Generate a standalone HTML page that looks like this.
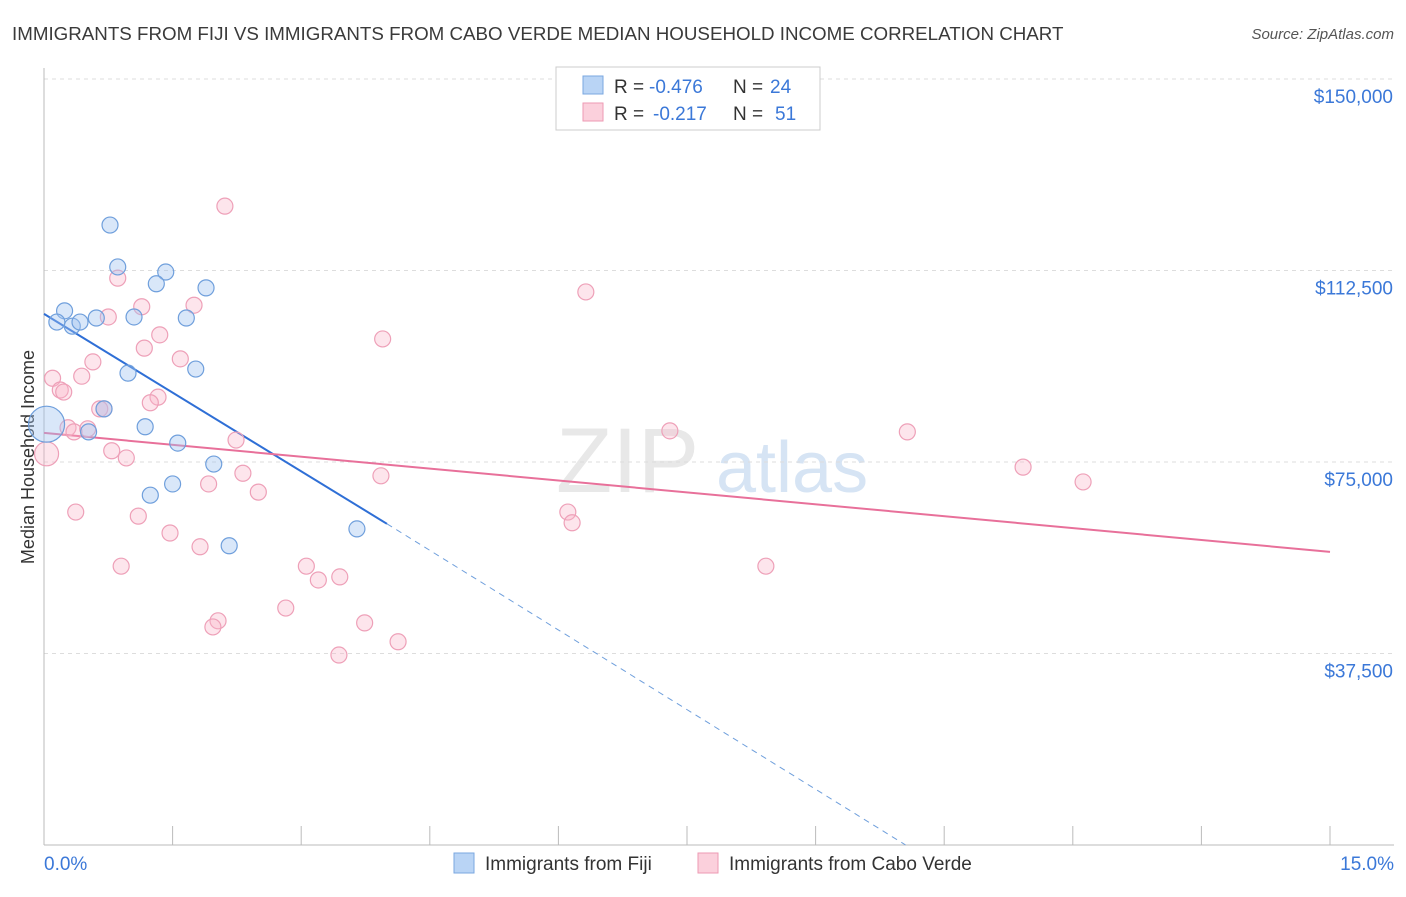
<!DOCTYPE html>
<html><head><meta charset="utf-8"><style>
body{margin:0;background:#fff;font-family:"Liberation Sans",sans-serif;}
svg text{font-family:"Liberation Sans",sans-serif;}
</style></head><body>
<svg id="chart" width="1406" height="892" viewBox="0 0 1406 892" xmlns="http://www.w3.org/2000/svg">
<text x="12" y="40" font-size="18.75" fill="#3a3a3a">IMMIGRANTS FROM FIJI VS IMMIGRANTS FROM CABO VERDE MEDIAN HOUSEHOLD INCOME CORRELATION CHART</text>
<text x="1394" y="39" font-size="15" fill="#555" font-style="italic" text-anchor="end">Source: ZipAtlas.com</text>
<text transform="translate(34,457) rotate(-90)" font-size="18" fill="#333" text-anchor="middle">Median Household Income</text>
<g><text x="556" y="492" font-size="92" fill="#e8e8e8" font-family="Liberation Serif">ZIP</text><text x="716" y="492" font-size="72" fill="#d6e4f4">atlas</text></g>
<g id="grid"></g><g id="axes"></g><g id="trends"></g><g id="points"></g>
<g>
<rect x="556" y="67" width="264" height="63" fill="#fff" stroke="#ccc"/>
<rect x="583" y="76" width="20" height="18" fill="#b9d4f5" stroke="#7aa7e0"/>
<text x="614" y="93" font-size="19" fill="#333">R =</text>
<text x="649" y="93" font-size="19" fill="#3b78d8">-0.476</text>
<text x="733" y="93" font-size="19" fill="#333">N =</text>
<text x="770" y="93" font-size="19" fill="#3b78d8">24</text>
<rect x="583" y="103" width="20" height="18" fill="#fbd0dc" stroke="#ee9ab3"/>
<text x="614" y="120" font-size="19" fill="#333">R =</text>
<text x="653" y="120" font-size="19" fill="#3b78d8">-0.217</text>
<text x="733" y="120" font-size="19" fill="#333">N =</text>
<text x="775" y="120" font-size="19" fill="#3b78d8">51</text>
</g>
<g>
<rect x="454" y="853" width="20" height="20" fill="#b9d4f5" stroke="#7aa7e0"/>
<text x="485" y="870" font-size="19" fill="#333">Immigrants from Fiji</text>
<rect x="698" y="853" width="20" height="20" fill="#fbd0dc" stroke="#ee9ab3"/>
<text x="729" y="870" font-size="19" fill="#333">Immigrants from Cabo Verde</text>
</g>
</svg>
<script>
const fijiX=[0.77,0.86,1.42,1.31,1.89,0.24,0.15,0.33,0.42,0.61,1.05,1.66,0.98,1.77,0.70,1.18,0.52,1.56,1.98,1.50,1.24,2.16,3.65,0.03];
const fijiY=[121.4,113.2,112.2,109.9,109.1,104.6,102.4,101.6,102.4,103.2,103.4,103.2,92.4,93.2,85.4,81.9,80.9,78.7,74.6,70.7,68.5,58.6,61.9,82.4];
const fijiR=[8,8,8,8,8,8,8,8,8,8,8,8,8,8,8,8,8,8,8,8,8,8,8,18];
const caboX=[2.11,0.86,6.32,1.14,1.75,0.75,1.35,3.95,1.17,1.59,0.57,0.10,0.44,0.19,0.23,1.33,1.24,0.65,0.70,0.28,0.35,0.51,2.24,7.30,10.07,0.79,0.96,0.03,2.32,3.93,1.92,2.50,11.42,12.12,0.37,1.10,6.11,6.16,1.47,1.82,0.90,3.06,8.42,3.45,3.20,2.82,2.03,1.97,3.74,4.13,3.44];
const caboY=[125.1,111.0,108.3,105.4,105.7,103.4,99.9,99.1,97.3,95.2,94.6,91.4,91.8,89.1,88.7,87.7,86.6,85.4,85.4,81.7,80.9,81.5,79.3,81.1,80.9,77.2,75.8,76.6,72.8,72.3,70.7,69.1,74.0,71.1,65.2,64.4,65.2,63.1,61.1,58.4,54.6,54.6,54.6,52.5,51.9,46.4,43.9,42.7,43.5,39.8,37.2];
const yTicks=[37.5,75,112.5,150];
const yTickLabels=["$37,500","$75,000","$112,500","$150,000"];
const xTicks=[0,1.5,3,4.5,6,7.5,9,10.5,12,13.5,15];
const fijiTrend=[[0,104.0],[4.0,62.9],[10.05,0]];
const caboTrend=[[0,80.7],[15,57.4]];
const NS="http://www.w3.org/2000/svg";
const X=v=>44+v/15*1286, Y=v=>845-v/150*766;
function mk(t,a,p){const e=document.createElementNS(NS,t);for(const k in a)e.setAttribute(k,a[k]);document.getElementById(p).appendChild(e);return e;}
yTicks.forEach((t,i)=>{
 const g=mk('line',{x1:44,x2:1394,y1:Y(t),y2:Y(t),stroke:'#ddd','stroke-dasharray':'4,4'},'grid');
 
 
 const l=mk('text',{x:1393,y:Y(t)+24,'font-size':19,fill:'#3b78d8','text-anchor':'end'},'axes');
 l.textContent=yTickLabels[i];
 
 
});
const ax=mk('line',{x1:44,x2:1394,y1:845,y2:845,stroke:'#bbb'},'axes');


const ay=mk('line',{x1:44,x2:44,y1:68,y2:845,stroke:'#bbb'},'axes');


xTicks.forEach(t=>{const k=mk('line',{x1:X(t),x2:X(t),y1:826,y2:845,stroke:'#bbb'},'axes');
 
 });
const x0=mk('text',{x:44,y:870,'font-size':19,fill:'#3b78d8'},'axes');x0.textContent='0.0%';


const x1=mk('text',{x:1394,y:870,'font-size':19,fill:'#3b78d8','text-anchor':'end'},'axes');x1.textContent='15.0%';


caboX.forEach((v,i)=>{const c=mk('circle',{cx:X(v),cy:Y(caboY[i]),r:i==27?12:8,fill:'rgba(248,180,200,0.35)',stroke:'#eea0b8','stroke-width':1.2},'points');
 
 });
fijiX.forEach((v,i)=>{const c=mk('circle',{cx:X(v),cy:Y(fijiY[i]),r:fijiR[i],fill:'rgba(160,195,240,0.4)',stroke:'#6f9fdc','stroke-width':1.2},'points');
 
 });
const t1=mk('line',{x1:X(fijiTrend[0][0]),y1:Y(fijiTrend[0][1]),x2:X(fijiTrend[1][0]),y2:Y(fijiTrend[1][1]),stroke:'#2f6fd6','stroke-width':2},'trends');


const t2=mk('line',{x1:X(fijiTrend[1][0]),y1:Y(fijiTrend[1][1]),x2:X(fijiTrend[2][0]),y2:Y(fijiTrend[2][1]),stroke:'#6f9fdc','stroke-width':1,'stroke-dasharray':'6,5'},'trends');


const t3=mk('line',{x1:X(caboTrend[0][0]),y1:Y(caboTrend[0][1]),x2:X(caboTrend[1][0]),y2:Y(caboTrend[1][1]),stroke:'#e8709a','stroke-width':2},'trends');


</script>
</body></html>
